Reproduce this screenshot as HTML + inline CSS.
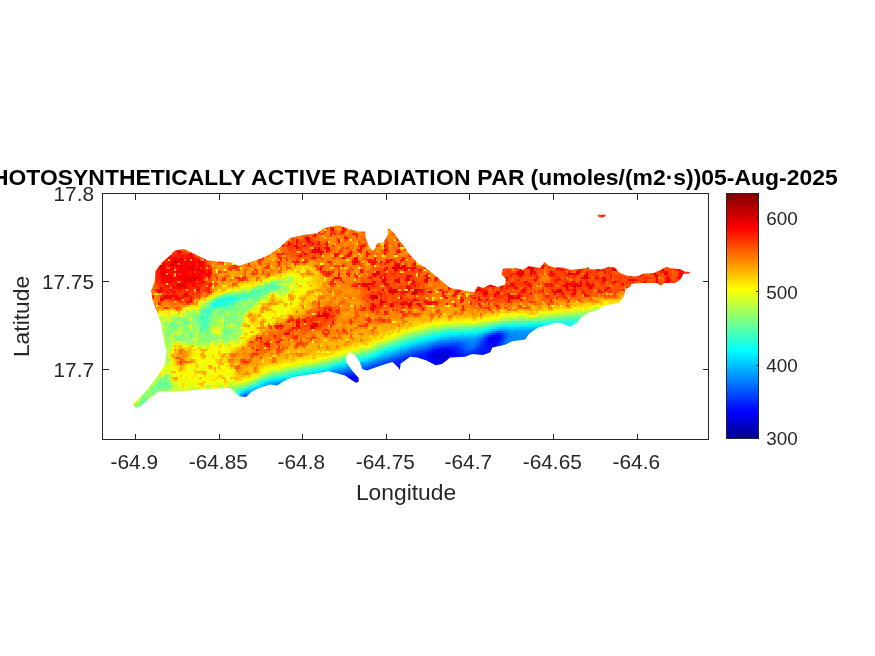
<!DOCTYPE html>
<html><head><meta charset="utf-8"><title>PAR</title>
<style>
html,body{margin:0;padding:0;background:#fff;}
body{width:875px;height:656px;overflow:hidden;position:relative;font-family:"Liberation Sans",sans-serif;}
svg{position:absolute;left:0;top:0;will-change:transform;}
text{font-family:"Liberation Sans",sans-serif;fill:#262626;}
.tk{font-size:20.8px;}
.cb{font-size:18.9px;}
.lb{font-size:22.8px;}
.tt{font-size:22.9px;font-weight:bold;fill:#000;letter-spacing:0.115px;}
</style></head><body>
<svg width="875" height="656" viewBox="0 0 875 656">

<defs>
<clipPath id="isl"><path d="M164.8 345.0L161.1 323.7L157.5 312.8L152.9 301.8L151.1 290.8L154.7 281.7L155.6 270.7L162.0 262.5L169.4 256.1L174.8 250.6L184.0 249.1L191.3 252.4L198.6 256.1L207.8 260.6L218.7 261.6L231.5 262.5L238.8 266.1L246.1 263.4L255.3 260.6L264.4 257.0L270.0 254.3L279.1 247.9L290.1 237.9L302.9 235.1L317.5 233.3L323.0 228.7L332.2 226.0L339.5 225.6L348.6 228.7L357.8 231.5L365.1 231.5L366.0 238.8L368.7 246.1L372.4 250.7L375.1 248.8L377.0 243.3L383.4 242.4L387.9 235.1L387.9 227.8L394.3 233.3L398.0 238.8L405.3 247.9L410.0 255.1L417.3 262.4L428.3 269.7L439.3 278.9L450.2 288.0L464.8 290.8L474.0 292.6L477.6 286.2L483.1 288.0L490.4 284.4L497.8 287.1L505.1 284.4L506.0 278.9L501.4 274.3L503.2 268.8L516.0 267.9L523.3 269.7L528.8 266.1L540.0 268.0L544.6 261.9L548.2 265.5L554.6 267.4L563.8 267.4L570.2 270.1L576.6 269.2L585.7 268.3L587.9 266.8L590.3 269.2L602.2 269.2L608.6 266.8L615.0 267.4L618.6 271.9L625.9 275.6L636.9 276.5L643.3 273.8L653.4 272.9L660.7 270.1L666.2 266.8L670.8 268.3L680.8 269.2L684.5 271.6L690.0 271.9L689.0 273.4L683.5 273.8L680.8 279.3L675.3 282.9L664.4 282.9L660.7 285.7L657.0 282.9L642.4 282.9L631.4 283.8L630.5 286.6L625.0 289.3L624.1 296.6L618.6 303.0L613.1 303.9L604.0 305.8L598.5 309.4L589.4 312.2L582.1 316.7L576.6 323.1L570.2 326.8L563.8 324.1L556.5 322.5L548.9 324.7L538.0 327.5L528.8 333.9L525.2 339.4L512.4 341.2L505.1 344.8L492.3 347.6L490.4 352.2L483.1 354.9L472.2 354.0L464.8 356.7L450.2 357.6L442.0 364.0L435.6 365.3L426.5 360.4L417.3 357.6L410.0 356.7L407.1 358.9L400.7 363.5L399.8 369.9L398.0 367.2L392.5 362.0L387.0 363.5L376.0 367.2L366.9 370.4L362.3 369.0L359.6 361.7L355.0 355.3L350.4 352.2L346.8 355.3L345.9 361.7L352.3 370.8L358.7 378.1L358.7 381.8L355.9 382.7L348.6 378.1L345.0 375.4L337.6 373.6L328.5 371.2L315.7 373.6L302.9 375.4L291.9 377.2L282.8 381.8L277.3 385.4L270.0 384.5L258.9 388.1L251.6 391.8L246.1 396.9L239.7 396.4L233.3 390.9L229.7 388.1L207.8 389.0L193.1 390.3L174.8 391.8L159.3 391.2L151.1 397.0L141.0 406.0L136.2 408.0L132.5 404.6L143.8 393.6L152.0 383.6L159.3 373.5L164.8 364.4L166.6 351.6Z"/><path d="M597.3 214.8L606.0 214.8L604.5 216.8L601.5 217.8L598.5 216.8Z"/></clipPath>
<filter id="jetf" x="100" y="195" width="610" height="245" filterUnits="userSpaceOnUse" color-interpolation-filters="sRGB">
<feGaussianBlur in="SourceGraphic" stdDeviation="3" result="S"/>
<feColorMatrix in="S" type="matrix" values="1 0 0 0 0  1 0 0 0 0  1 0 0 0 0  0 0 0 0 1" result="f"/>
<feColorMatrix in="S" type="matrix" values="0 1 0 0 0  0 1 0 0 0  0 1 0 0 0  0 0 0 0 1" result="aH"/>
<feColorMatrix in="S" type="matrix" values="0 0 1 0 0  0 0 1 0 0  0 0 1 0 0  0 0 0 0 1" result="aL"/>
<feTurbulence type="fractalNoise" baseFrequency="0.17" numOctaves="2" seed="11" result="tA"/>
<feTurbulence type="fractalNoise" baseFrequency="0.26" numOctaves="1" seed="5" result="tB"/>
<feColorMatrix in="tA" type="matrix" values="1 0 0 0 0  1 0 0 0 0  1 0 0 0 0  0 0 0 0 1" result="a0"/>
<feComponentTransfer in="a0" result="nHi"><feFuncR type="linear" slope="7" intercept="-3.62"/><feFuncG type="linear" slope="7" intercept="-3.62"/><feFuncB type="linear" slope="7" intercept="-3.62"/></feComponentTransfer>
<feColorMatrix in="tB" type="matrix" values="1 0 0 0 0  1 0 0 0 0  1 0 0 0 0  0 0 0 0 1" result="b0"/>
<feComponentTransfer in="b0" result="nLo"><feFuncR type="linear" slope="-12" intercept="4.3"/><feFuncG type="linear" slope="-12" intercept="4.3"/><feFuncB type="linear" slope="-12" intercept="4.3"/></feComponentTransfer>
<feColorMatrix in="tA" type="matrix" values="0 1 0 0 0  0 1 0 0 0  0 1 0 0 0  0 0 0 0 1" result="nG"/>
<feComposite in="aH" in2="nHi" operator="arithmetic" k1="1" k2="0" k3="0" k4="0" result="hi"/>
<feComposite in="aL" in2="nLo" operator="arithmetic" k1="1" k2="0" k3="0" k4="0" result="lo"/>
<feColorMatrix in="lo" type="matrix" values="-0.25 0 0 0 1  -0.25 0 0 0 1  -0.25 0 0 0 1  0 0 0 0 1" result="M"/>
<feComposite in="f" in2="hi" operator="arithmetic" k1="0" k2="1" k3="0.25" k4="0" result="v1"/>
<feBlend in="v1" in2="M" mode="multiply" result="v2"/>
<feComposite in="v2" in2="nG" operator="arithmetic" k1="0.10" k2="0.95" k3="0" k4="0" result="vs"/>
<feFlood x="100" y="195" width="1" height="1" flood-color="#000" result="px"/>
<feOffset in="px" dx="0" dy="0" x="100" y="195" width="2" height="2" result="cell"/>
<feTile in="cell" result="grid"/>
<feComposite in="vs" in2="grid" operator="in" result="s0"/>
<feOffset in="s0" dx="1" dy="0" result="s1"/>
<feOffset in="s0" dx="0" dy="1" result="s2"/>
<feOffset in="s0" dx="1" dy="1" result="s3"/>
<feMerge result="v"><feMergeNode in="s0"/><feMergeNode in="s1"/><feMergeNode in="s2"/><feMergeNode in="s3"/></feMerge>
<feComponentTransfer in="v">
<feFuncR type="table" tableValues="0 0 0 0 .5 1 1 1 .72"/>
<feFuncG type="table" tableValues="0 0 .5 1 1 1 .5 0 0"/>
<feFuncB type="table" tableValues=".56 1 1 1 .5 0 0 0 0"/>
</feComponentTransfer>
</filter>
</defs>
<g clip-path="url(#isl)"><g filter="url(#jetf)">
<rect x="90" y="185" width="630" height="265" fill="#bf73bf"/>
<ellipse cx="183" cy="277" rx="31" ry="27" fill="#d14ccc"/>
<ellipse cx="181" cy="271" rx="25" ry="18" fill="#de33e6"/>
<ellipse cx="305" cy="247" rx="22" ry="12" fill="#cc8099"/>
<ellipse cx="395" cy="290" rx="34" ry="30" fill="#cc80b2"/>
<path d="M470.0 262.0L700.0 255.0L700.0 290.0L630.0 292.0L600.0 296.0L560.0 298.0L520.0 302.0L470.0 306.0Z" fill="#cd6b59"/>
<ellipse cx="602" cy="216" rx="8" ry="5" fill="#d61a1a"/>
<ellipse cx="340" cy="305" rx="22" ry="22" fill="#ba3366"/>
<path d="M150.0 362.5L200.0 359.5L228.0 357.5L239.0 355.5L255.0 347.5L266.0 341.5L288.0 338.0L325.0 326.0L352.0 319.0L365.0 317.0L387.0 311.5L415.0 307.5L442.0 305.0L480.0 305.5L501.0 304.0L538.0 301.0L560.0 299.0L580.0 297.0L600.0 294.0L620.0 290.0L640.0 286.0L648.0 450.0L142.0 450.0Z" fill="#bb6180"/>
<path d="M150.0 372.5L200.0 371.5L228.0 369.5L239.0 369.5L255.0 361.5L266.0 355.5L288.0 349.0L325.0 338.0L352.0 331.0L365.0 329.5L387.0 321.5L415.0 315.0L442.0 312.5L480.0 312.5L501.0 309.0L538.0 305.5L560.0 304.0L580.0 302.0L600.0 298.0L620.0 294.0L640.0 290.0L648.0 450.0L142.0 450.0Z" fill="#b24773"/>
<path d="M214.0 262.0L232.0 264.0L240.0 268.0L262.0 258.0L276.0 250.0L282.0 268.0L240.0 282.0L216.0 292.0L211.0 280.0Z" fill="#b866b2"/>
<path d="M285.0 266.0L312.0 260.0L324.0 280.0L320.0 300.0L302.0 314.0L280.0 320.0Z" fill="#ab5966"/>
<path d="M150.0 312.0L185.0 306.0L205.0 295.0L240.0 284.0L285.0 272.0L305.0 270.0L312.0 285.0L300.0 300.0L282.0 318.0L262.0 330.0L240.0 345.0L232.0 352.0L236.0 366.0L232.0 392.0L150.0 400.0L128.0 410.0L140.0 390.0L160.0 365.0Z" fill="#9e614c"/>
<path d="M155.0 320.0L180.0 314.0L200.0 306.0L230.0 296.0L262.0 286.0L288.0 275.0L296.0 284.0L275.0 298.0L250.0 309.0L242.0 322.0L240.0 342.0L200.0 345.0L163.0 342.0Z" fill="#804c4c"/>
<path d="M204.0 328.0L204.0 312.0L214.0 303.0L238.0 296.0L258.0 290.0L274.0 284.0" fill="none" stroke="#692640" stroke-width="8" stroke-linejoin="round" stroke-linecap="round"/>
<ellipse cx="224" cy="300" rx="15" ry="6" fill="#5e1a33" transform="rotate(-15 224 300)"/>
<ellipse cx="272" cy="297" rx="5" ry="4" fill="#c24c4c"/>
<ellipse cx="266" cy="305" rx="5" ry="4" fill="#c24c4c"/>
<ellipse cx="251" cy="316" rx="4" ry="4" fill="#c24c4c"/>
<ellipse cx="254" cy="322" rx="4" ry="3" fill="#c24c4c"/>
<ellipse cx="214" cy="329" rx="4" ry="3" fill="#b84c4c"/>
<ellipse cx="181" cy="357" rx="7" ry="11" fill="#bd4c4c"/>
<ellipse cx="190" cy="350" rx="5" ry="4" fill="#b84c4c"/>
<path d="M230.0 358.0L255.0 346.0" fill="none" stroke="#b84c66" stroke-width="10" stroke-linejoin="round" stroke-linecap="round"/>
<path d="M257.0 345.0L277.0 337.0L306.0 325.0" fill="none" stroke="#c67380" stroke-width="13" stroke-linejoin="round" stroke-linecap="round"/>
<ellipse cx="320" cy="318" rx="20" ry="10" fill="#cf7399" transform="rotate(-25 320 318)"/>
<path d="M112.0 424.0L150.0 383.0L166.0 370.0L178.0 396.0L150.0 404.0L122.0 428.0Z" fill="#782633"/>
<path d="M160.0 318.0L166.0 340.0L165.0 362.0" fill="none" stroke="#853333" stroke-width="8" stroke-linejoin="round" stroke-linecap="round"/>
<path d="M228.0 377.5L239.0 379.5L255.0 372.5L266.0 365.5L288.0 360.5L325.0 354.5L352.0 345.5L365.0 343.0L387.0 333.5L415.0 324.0L442.0 319.0L480.0 317.5L501.0 313.0L538.0 310.0L560.0 308.0L580.0 306.0L600.0 302.0L620.0 298.0L628.0 450.0L220.0 450.0Z" fill="#9f1f40"/>
<path d="M228.0 382.5L239.0 384.5L255.0 378.5L266.0 372.5L288.0 367.0L325.0 360.0L352.0 351.5L365.0 349.0L387.0 340.0L415.0 330.0L442.0 324.0L480.0 323.0L501.0 318.0L538.0 315.0L560.0 313.0L580.0 311.0L600.0 306.0L608.0 450.0L220.0 450.0Z" fill="#800a1f"/>
<path d="M239.0 389.5L255.0 383.5L266.0 377.5L288.0 372.5L325.0 364.5L352.0 357.0L365.0 354.5L387.0 345.5L415.0 336.5L442.0 330.0L480.0 327.5L501.0 323.0L538.0 321.0L560.0 319.0L580.0 317.0L588.0 450.0L231.0 450.0Z" fill="#600514"/>
<path d="M239.0 392.5L255.0 387.5L266.0 381.5L288.0 379.5L325.0 371.0L352.0 363.0L365.0 361.5L387.0 353.0L415.0 344.0L442.0 337.0L480.0 334.5L501.0 328.0L538.0 327.0L560.0 326.0L568.0 450.0L231.0 450.0Z" fill="#42050f"/>
<path d="M266.0 387.5L352.0 371.0L387.0 360.5L415.0 351.5L442.0 344.0L480.0 341.5L501.0 335.0L509.0 450.0L258.0 450.0Z" fill="#26000d"/>
<ellipse cx="442" cy="356" rx="13" ry="7" fill="#14000d"/>
<ellipse cx="494" cy="337" rx="12" ry="5" fill="#1a000d" transform="rotate(-15 494 337)"/>
<ellipse cx="470" cy="346" rx="10" ry="4" fill="#40000d" transform="rotate(-15 470 346)"/>
<ellipse cx="352" cy="380" rx="7" ry="5" fill="#1f000d"/>
<ellipse cx="244" cy="398" rx="6" ry="4" fill="#26000d"/>
<path d="M150.0 397.0L175.0 393.0L222.0 390.0" fill="none" stroke="#8a2633" stroke-width="10" stroke-linejoin="round" stroke-linecap="round"/>
<path d="M531.0 312.0L538.0 292.0L546.0 272.0" fill="none" stroke="#b8334c" stroke-width="7" stroke-linejoin="round" stroke-linecap="round"/>
</g></g>

<g stroke="#262626" stroke-width="1" fill="none" shape-rendering="crispEdges">
<rect x="102.5" y="193.5" width="606" height="246"/>
<path d="M135.5 439.5v-6M135.5 193.5v6"/>
<path d="M219.5 439.5v-6M219.5 193.5v6"/>
<path d="M302.5 439.5v-6M302.5 193.5v6"/>
<path d="M386.5 439.5v-6M386.5 193.5v6"/>
<path d="M469.5 439.5v-6M469.5 193.5v6"/>
<path d="M553.5 439.5v-6M553.5 193.5v6"/>
<path d="M637.5 439.5v-6M637.5 193.5v6"/>
<path d="M102.5 281.5h6M708.5 281.5h-6"/>
<path d="M102.5 369.5h6M708.5 369.5h-6"/>
</g>
<text class="tk" x="134.3" y="469.3" text-anchor="middle">-64.9</text>
<text class="tk" x="218.3" y="469.3" text-anchor="middle">-64.85</text>
<text class="tk" x="301.3" y="469.3" text-anchor="middle">-64.8</text>
<text class="tk" x="385.3" y="469.3" text-anchor="middle">-64.75</text>
<text class="tk" x="468.3" y="469.3" text-anchor="middle">-64.7</text>
<text class="tk" x="552.3" y="469.3" text-anchor="middle">-64.65</text>
<text class="tk" x="636.3" y="469.3" text-anchor="middle">-64.6</text>
<text class="tk" x="94" y="201.2" text-anchor="end">17.8</text>
<text class="tk" x="94" y="288.6" text-anchor="end">17.75</text>
<text class="tk" x="94" y="376.6" text-anchor="end">17.7</text>
<text class="lb" x="406" y="500.3" text-anchor="middle">Longitude</text>
<text class="lb" transform="translate(29,316.5) rotate(-90)" text-anchor="middle">Latitude</text>
<text class="tt" x="245.5" y="185.3" text-anchor="end" style="letter-spacing:0.03px">PHOTOSYNTHETICALLY</text>
<text class="tt" x="524.7" y="185.3" text-anchor="end" style="letter-spacing:0.245px">ACTIVE RADIATION PAR</text>
<text class="tt" x="530.6" y="185.3" text-anchor="start" style="letter-spacing:0.023px">(umoles/(m2·s))05-Aug-2025</text>
<defs><linearGradient id="jet" x1="0" y1="1" x2="0" y2="0">
<stop offset="0" stop-color="#00008f"/><stop offset="0.109" stop-color="#0000ff"/>
<stop offset="0.359" stop-color="#00ffff"/><stop offset="0.609" stop-color="#ffff00"/>
<stop offset="0.859" stop-color="#ff0000"/><stop offset="1" stop-color="#800000"/>
</linearGradient></defs>
<rect x="726.5" y="193.5" width="32" height="245" fill="url(#jet)" stroke="#262626" stroke-width="1" shape-rendering="crispEdges"/>
<g stroke="#262626" stroke-width="1" shape-rendering="crispEdges"><path d="M758.5 218.5h-3M758.5 291.5h-3M758.5 365.5h-3"/></g>

<text class="cb" x="766.3" y="225.4">600</text>
<text class="cb" x="766.3" y="298.6">500</text>
<text class="cb" x="766.3" y="371.7">400</text>
<text class="cb" x="766.3" y="444.9">300</text>
</svg></body></html>
